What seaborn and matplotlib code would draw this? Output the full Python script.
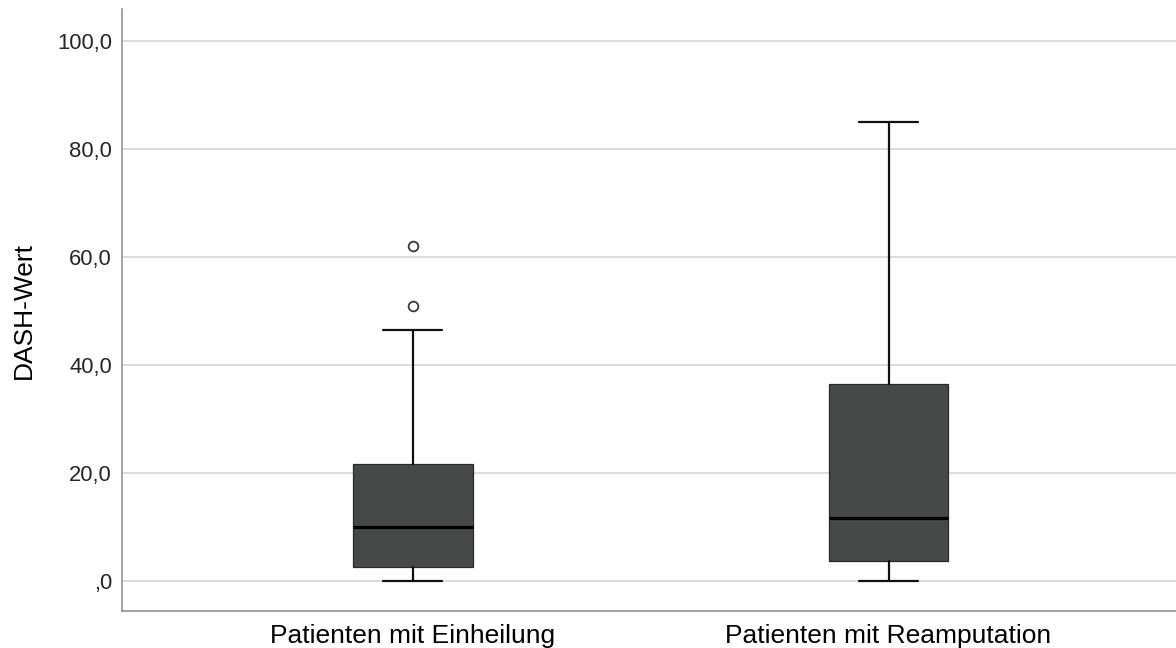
import numpy as np
import matplotlib
matplotlib.use("Agg")
import matplotlib.pyplot as plt
import seaborn as sns

# Group labels and five-number summaries of the DASH score
groups = ["Patienten mit Einheilung", "Patienten mit Reamputation"]
whisker_low = [0.0, 0.0]
q1 = [2.5, 3.7]
median = [9.9, 11.6]
q3 = [21.6, 36.5]
whisker_high = [46.5, 84.9]
outliers = [[50.9, 62.0], []]

y_ticks = [0, 20, 40, 60, 80, 100]
y_label = "DASH-Wert"

sns.set_theme(style="whitegrid")
plt.rcParams["font.family"] = ["Liberation Sans", "DejaVu Sans"]

fig = plt.figure(figsize=(11.76, 6.48), dpi=100)
ax = fig.add_axes([0.1035, 0.057, 0.8965, 0.929])

stats = []
for i, name in enumerate(groups):
    stats.append(dict(label=name, whislo=whisker_low[i], q1=q1[i], med=median[i],
                      q3=q3[i], whishi=whisker_high[i], fliers=outliers[i]))

positions = np.arange(len(groups))
ax.bxp(stats, positions=positions, widths=0.252, capwidths=0.124,
       patch_artist=True, showfliers=True,
       boxprops=dict(facecolor="#474848", edgecolor="#2a2a2a", linewidth=0.9),
       medianprops=dict(color="#000000", linewidth=2.3, solid_capstyle="butt"),
       whiskerprops=dict(color="#111111", linewidth=1.6),
       capprops=dict(color="#111111", linewidth=1.6),
       flierprops=dict(marker="o", markersize=7, markerfacecolor="white",
                       markeredgecolor="#3a3a3a", markeredgewidth=1.3))

ax.set_xlim(-0.611, 1.604)
ax.set_ylim(-5.6, 105.9)
ax.set_yticks(y_ticks)
ax.set_yticklabels([(f"{v:.1f}".replace(".", ",") if v != 0 else ",0") for v in y_ticks])
ax.set_xticks(positions)
ax.set_xticklabels(groups)

ax.set_facecolor("white")
ax.grid(False)
ax.yaxis.grid(True, color="#d2d2d2", linewidth=1.1)
ax.set_axisbelow(True)

for side in ["top", "right"]:
    ax.spines[side].set_visible(False)
for side in ["left", "bottom"]:
    ax.spines[side].set_visible(True)
    ax.spines[side].set_color("#8c8c8c")
    ax.spines[side].set_linewidth(1.1)

ax.tick_params(axis="y", length=0, pad=7, labelsize=15.8, labelcolor="#262626")
ax.tick_params(axis="x", length=0, pad=9, labelsize=19, labelcolor="#000000")
ax.set_ylabel(y_label, fontsize=19, color="#000000", labelpad=15)
ax.set_xlabel("")

fig.savefig("out.png", dpi=100, facecolor="white")
